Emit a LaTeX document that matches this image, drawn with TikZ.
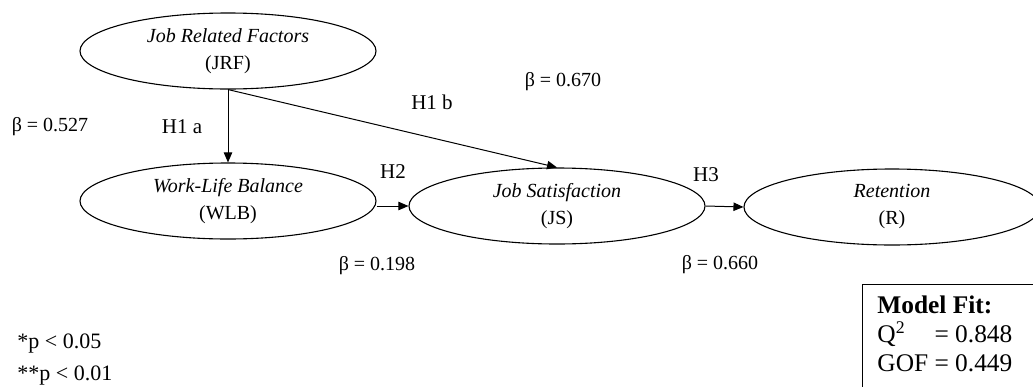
\documentclass[tikz,border=0pt]{standalone}
\usepackage{fontspec}
\setmainfont{Liberation Serif}
\usetikzlibrary{shapes.geometric,arrows.meta}

\tikzset{
  construct/.style={draw, line width=0.55pt, ellipse, minimum width=148pt,
    minimum height=38pt, inner sep=0pt, align=center,
    font=\fontsize{10}{13.5}\selectfont},
  path/.style={draw, line width=0.5pt, -{Triangle[length=5pt,width=4.2pt]}},
  coef/.style={inner sep=0pt, font=\fontsize{10}{12}\selectfont},
  hyp/.style={inner sep=0pt, font=\fontsize{10.5}{12}\selectfont},
  note/.style={inner sep=0pt, anchor=base west, font=\fontsize{11}{13}\selectfont},
  fitbox/.style={draw, line width=0.5pt}
}

\begin{document}
\begin{tikzpicture}[x=0.5pt, y=-0.5pt]
  \useasboundingbox (0,0) rectangle (1033,386);
  \clip (0,0) rectangle (1033,386);

  % latent constructs
  \node[construct] (jrf) at (228,51)  {\textit{Job Related Factors}\\(JRF)};
  \node[construct] (wlb) at (228,201) {\textit{Work-Life Balance}\\(WLB)};
  \node[construct] (js)  at (557,206) {\textit{Job Satisfaction}\\(JS)};
  \node[construct] (ret) at (892,207) {\textit{Retention}\\(R)};

  % structural paths
  \draw[path] (jrf.south) -- (wlb.north);
  \draw[path] (jrf.south) -- (js.north);
  \draw[path] (wlb.east |- js.west) -- (js.west);
  \draw[path] (js.east) -- (ret.west);

  % hypotheses and path coefficients
  \node[coef] (b1) at (50,127)  {β = 0.527};
  \node[hyp]  (h1a) at (182,127) {H1 a};
  \node[hyp]  (h1b) at (432,102) {H1 b};
  \node[coef] (b2) at (563,82)  {β = 0.670};
  \node[hyp]  (h2) at (393,172) {H2};
  \node[coef] (b3) at (377,266) {β = 0.198};
  \node[hyp]  (h3) at (706,175) {H3};
  \node[coef] (b4) at (720,265) {β = 0.660};

  % significance levels
  \node[note] (sig1) at (17,348) {*p < 0.05};
  \node[note] (sig2) at (17,380) {**p < 0.01};

  % model fit summary
  \draw[fitbox] (862,284) rectangle (1050,400);
  \node[inner sep=0pt, anchor=base west, font=\fontsize{12.7}{14.5}\selectfont] (fit) at (877,313)
    {\begin{tabular}[t]{@{}l@{\ }l@{}}
      \multicolumn{2}{@{}l@{}}{\textbf{Model Fit:}}\\
      Q\textsuperscript{2} & = 0.848\\
      GOF & = 0.449
    \end{tabular}};
\end{tikzpicture}
\end{document}
